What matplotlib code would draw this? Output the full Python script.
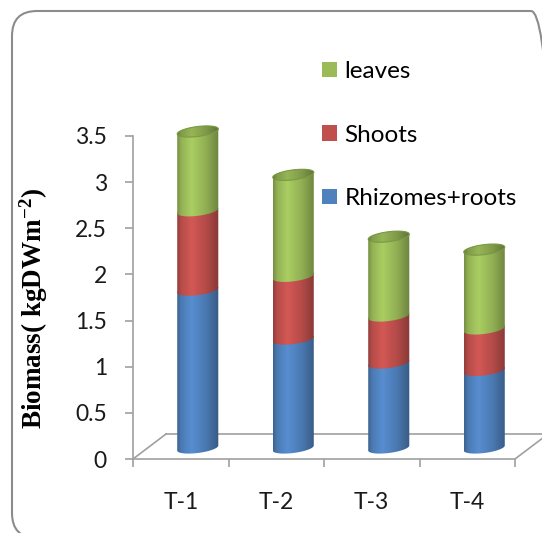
import matplotlib
matplotlib.use('Agg')
import matplotlib.pyplot as plt
import matplotlib.colors as mcolors
from matplotlib.patches import Polygon, Patch, FancyBboxPatch
from matplotlib.transforms import IdentityTransform
import numpy as np

plt.rcParams['font.family'] = ['Lato', 'DejaVu Sans']
plt.rcParams['mathtext.fontset'] = 'custom'
plt.rcParams['mathtext.rm'] = 'Liberation Serif:bold'
plt.rcParams['mathtext.it'] = 'Liberation Serif:bold'
plt.rcParams['mathtext.bf'] = 'Liberation Serif:bold'

# biomass per treatment (kg DW m-2)
categories = ['T-1', 'T-2', 'T-3', 'T-4']
rhizomes = [1.71, 1.18, 0.92, 0.84]
shoots = [0.86, 0.68, 0.51, 0.45]
leaves = [0.86, 1.10, 0.86, 0.86]
y_ticks = [0, 0.5, 1, 1.5, 2, 2.5, 3, 3.5]
y_tick_labels = ['0', '0.5', '1', '1.5', '2', '2.5', '3', '3.5']

series = [
    ('Rhizomes+roots', rhizomes, '#4F81BD'),
    ('Shoots', shoots, '#C0504D'),
    ('leaves', leaves, '#9BBB59'),
]

W, H = 542, 533
fig = plt.figure(figsize=(W / 100, H / 100), dpi=100)
y_top = 3.8   # room above the axis for the tallest cap
px_per_unit = 323 / 3.5
ax = fig.add_axes([133 / W, 1 - 459 / H, 382 / W, y_top * px_per_unit / H])
ax.patch.set_visible(False)

# fake 3d geometry (data units)
cyl_dx, cyl_dy = 0.178, 0.119      # cylinders sit part-way back on the floor
floor_dx, floor_dy = 0.346, 0.271  # back edge of the floor
rad = 0.215                        # cylinder half width
ell_b = 0.054                      # half height of the elliptic caps
ell_k = 0.027                      # slant of the caps

u = np.linspace(0, 1, 200)
shade = np.interp(u, [0, 0.1, 0.35, 0.7, 1.0], [0.76, 0.95, 1.10, 0.93, 0.70])


def gradient(color, gain=1.0):
    rgb = np.array(mcolors.to_rgb(color))
    img = np.clip(rgb[None, :] * shade[:, None] * gain, 0, 1)
    return img[None, :, :]


def arc(cx, y0, t):
    return np.column_stack([cx + rad * np.cos(t), y0 + ell_k * np.cos(t) - ell_b * np.sin(t)])


front = np.linspace(np.pi, 0, 60)       # left -> right along the near side
back = np.linspace(0, -np.pi, 60)       # right -> left along the far side

# floor outline
gray = '#A0A0A0'
ax.plot([-0.5 + floor_dx, 3.5 + floor_dx], [floor_dy, floor_dy], color=gray, lw=1.2, clip_on=False, zorder=1)
ax.plot([-0.5, -0.5 + floor_dx], [0, floor_dy], color=gray, lw=1.2, clip_on=False, zorder=1)
ax.plot([3.5, 3.5 + floor_dx], [0, floor_dy], color=gray, lw=1.2, clip_on=False, zorder=1)

z = 3
for i in range(len(categories)):
    cx = i + cyl_dx
    base = cyl_dy
    for name, vals, color in series:
        top = base + vals[i]
        pts = np.vstack([arc(cx, base, front), arc(cx, top, back)])
        poly = Polygon(pts, closed=True, facecolor='none', edgecolor='none', transform=ax.transData)
        ax.add_patch(poly)
        ax.imshow(gradient(color), extent=[cx - rad, cx + rad, base - 0.1, top + 0.1],
                  aspect='auto', interpolation='bilinear', clip_path=poly, zorder=z)
        z += 1
        base = top
    # top cap
    cap_pts = arc(cx, base, np.linspace(0, 2 * np.pi, 120))
    cap = Polygon(cap_pts, closed=True, facecolor='none', edgecolor='#7B9A43', lw=0.8,
                  transform=ax.transData, zorder=z + 1)
    ax.add_patch(cap)
    ax.imshow(gradient(series[-1][2], 0.88), extent=[cx - rad, cx + rad, base - 0.1, base + 0.1],
              aspect='auto', interpolation='bilinear', clip_path=cap, zorder=z)
    z += 2

ax.set_xlim(-0.5, 3.5)
ax.set_ylim(0, y_top)

for side in ['top', 'right']:
    ax.spines[side].set_visible(False)
for side in ['left', 'bottom']:
    ax.spines[side].set_color(gray)
    ax.spines[side].set_linewidth(1.2)
ax.spines['left'].set_bounds(0, 3.5)

ax.set_yticks(y_ticks)
ax.set_yticklabels(y_tick_labels, fontsize=16.5, color='#1a1a1a')
ax.tick_params(axis='y', length=5.8, width=1.2, color=gray, pad=13)
ax.set_xticks([-0.5, 0.5, 1.5, 2.5, 3.5])
ax.set_xticklabels([])
ax.set_xticks(range(len(categories)), minor=True)
ax.set_xticklabels(categories, minor=True, fontsize=16.5, color='#1a1a1a')
ax.tick_params(axis='x', which='major', length=5.8, width=1.2, color=gray)
ax.tick_params(axis='x', which='minor', length=0, pad=24)

handles = [Patch(facecolor=c, label=n) for n, _, c in reversed(series)]
ax.legend(handles=handles, loc='upper left', bbox_to_anchor=(322 / W, 1 - 61 / H),
          bbox_transform=fig.transFigure, frameon=False, fontsize=17.5,
          handlelength=0.62, handleheight=0.62, handletextpad=0.3, labelspacing=1.75,
          borderpad=0, borderaxespad=0)

fig.text(34 / W, 1 - 308 / H, 'Biomass( kgDWm$^{-2}$)', rotation=90, ha='center', va='center',
         family='Liberation Serif', fontweight='bold', fontsize=19.5)

# rounded chart-area border
border = FancyBboxPatch((12, -5), 544, 527, boxstyle='round,pad=0,rounding_size=25',
                        transform=IdentityTransform(), facecolor='none', edgecolor='#8C8C8C', lw=1.5)
fig.add_artist(border)

fig.savefig('out.png', dpi=100)
